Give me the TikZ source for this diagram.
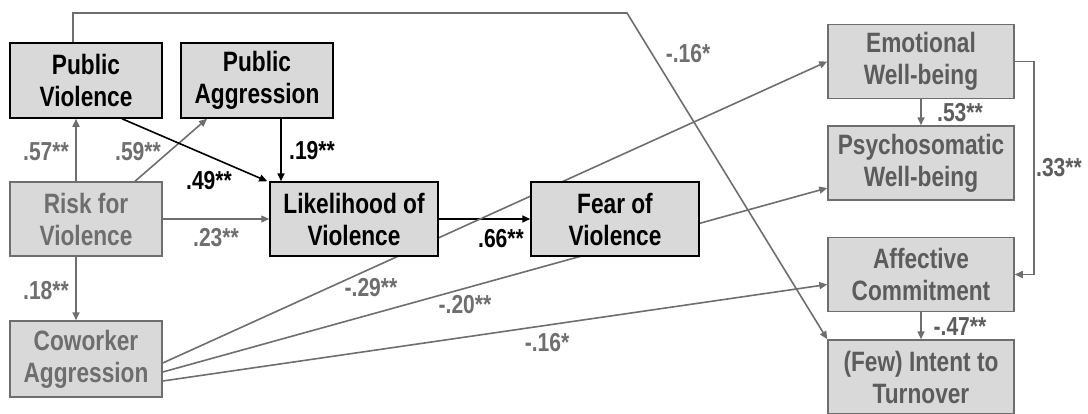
\documentclass[tikz,border=0pt]{standalone}
\usepackage{fontspec}
\setmainfont{Liberation Sans}[FakeStretch=0.81]
\usetikzlibrary{arrows.meta,backgrounds}
\definecolor{boxfill}{HTML}{D9D9D9}
\definecolor{darkgray}{HTML}{5C5C5C}
\definecolor{midgray}{HTML}{6E6E6E}
\begin{document}
\begin{tikzpicture}[x=1pt,y=-1pt,
  blackbox/.style={draw=black,line width=1.5pt,fill=boxfill,align=center,
    font=\fontsize{28}{32}\selectfont\bfseries,inner sep=0pt},
  graybox/.style={blackbox,draw=midgray,text=midgray},
  rightbox/.style={blackbox,draw=midgray,text=darkgray,minimum width=186,minimum height=74},
  blackarr/.style={line width=1.6pt,-{Triangle[length=8pt,width=7pt]}},
  grayarr/.style={blackarr,draw=midgray},
  coef/.style={font=\fontsize{26}{28}\selectfont\bfseries,inner sep=0pt}]
  \useasboundingbox (0,0) rectangle (1088,413);
  % 左侧方框
  \node[blackbox,minimum width=152,minimum height=75] (pv) at (86,80.5) {Public\\Violence};
  \node[blackbox,minimum width=152,minimum height=75] (pa) at (257,80.5) {Public\\Aggression};
  \node[graybox,minimum width=152,minimum height=74] (risk) at (86,219) {Risk for\\Violence};
  \node[graybox,minimum width=152,minimum height=76] (cow) at (86,359) {Coworker\\Aggression};
  % 中间方框
  \node[blackbox,minimum width=168,minimum height=74] (like) at (354,219) {Likelihood of\\Violence};
  \node[blackbox,minimum width=168,minimum height=74] (fear) at (615,219) {Fear of\\Violence};
  % 右侧方框
  \node[rightbox] (emo) at (921,61.5) {Emotional\\Well-being};
  \node[rightbox] (psy) at (921,163) {Psychosomatic\\Well-being};
  \node[rightbox] (aff) at (921,274.5) {Affective\\Commitment};
  \node[rightbox] (turn) at (921,377) {(Few) Intent to\\Turnover};
  % 连线
  \coordinate (bend) at (627,13);
  \begin{scope}[on background layer]
    \draw[grayarr] ([xshift=-10pt]risk.north) -- ([xshift=-10pt]pv.south);
    \draw[grayarr] ([xshift=49pt]risk.north) -- ([xshift=-50pt]pa.south);
    \draw[blackarr] ([xshift=36pt]pv.south) -- ([xshift=-2pt]like.north west);
    \draw[blackarr] ([xshift=24pt]pa.south) -- ([xshift=24pt]pa.south |- like.north);
    \draw[grayarr,line width=1.2pt] (risk.east) -- (like.west);
    \draw[grayarr] ([xshift=-10pt]risk.south) -- ([xshift=-10pt]cow.north);
    \draw[blackarr] (like.east) -- (fear.west);
    \draw[grayarr] ([yshift=-4pt]cow.east) -- (emo.west);
    \draw[grayarr] ([yshift=-13pt]cow.east) -- ([yshift=-25pt]psy.west);
    \draw[grayarr] ([yshift=-22pt]cow.east) -- ([yshift=-10pt]aff.west);
    \draw[grayarr] ([xshift=-13pt]pv.north) |- (bend) -- (turn.north west);
    \draw[grayarr] (emo.south) -- (psy.north);
    \draw[grayarr] (emo.east) -- ++(19,0) |- (aff.east);
    \draw[grayarr] (aff.south) -- (turn.north);
  \end{scope}
  % 系数
  \node[coef,text=midgray] (c57) at (46,152) {.57**};
  \node[coef,text=midgray] (c59) at (138,152) {.59**};
  \node[coef] (c49) at (209,181) {.49**};
  \node[coef] (c19) at (312,151) {.19**};
  \node[coef,text=midgray] (c23) at (216,238) {.23**};
  \node[coef,text=midgray] (c18) at (46,291) {.18**};
  \node[coef] (c66) at (501,239) {.66**};
  \node[coef,text=midgray] (c29) at (371,288) {-.29**};
  \node[coef,text=midgray] (c20) at (465,305) {-.20**};
  \node[coef,text=midgray] (c16a) at (547,343) {-.16*};
  \node[coef,text=midgray] (c16b) at (688,54) {-.16*};
  \node[coef,text=darkgray] (c53) at (960,113) {.53**};
  \node[coef,text=darkgray] (c33) at (1059,168) {.33**};
  \node[coef,text=darkgray] (c47) at (960,327) {-.47**};
\end{tikzpicture}
\end{document}
